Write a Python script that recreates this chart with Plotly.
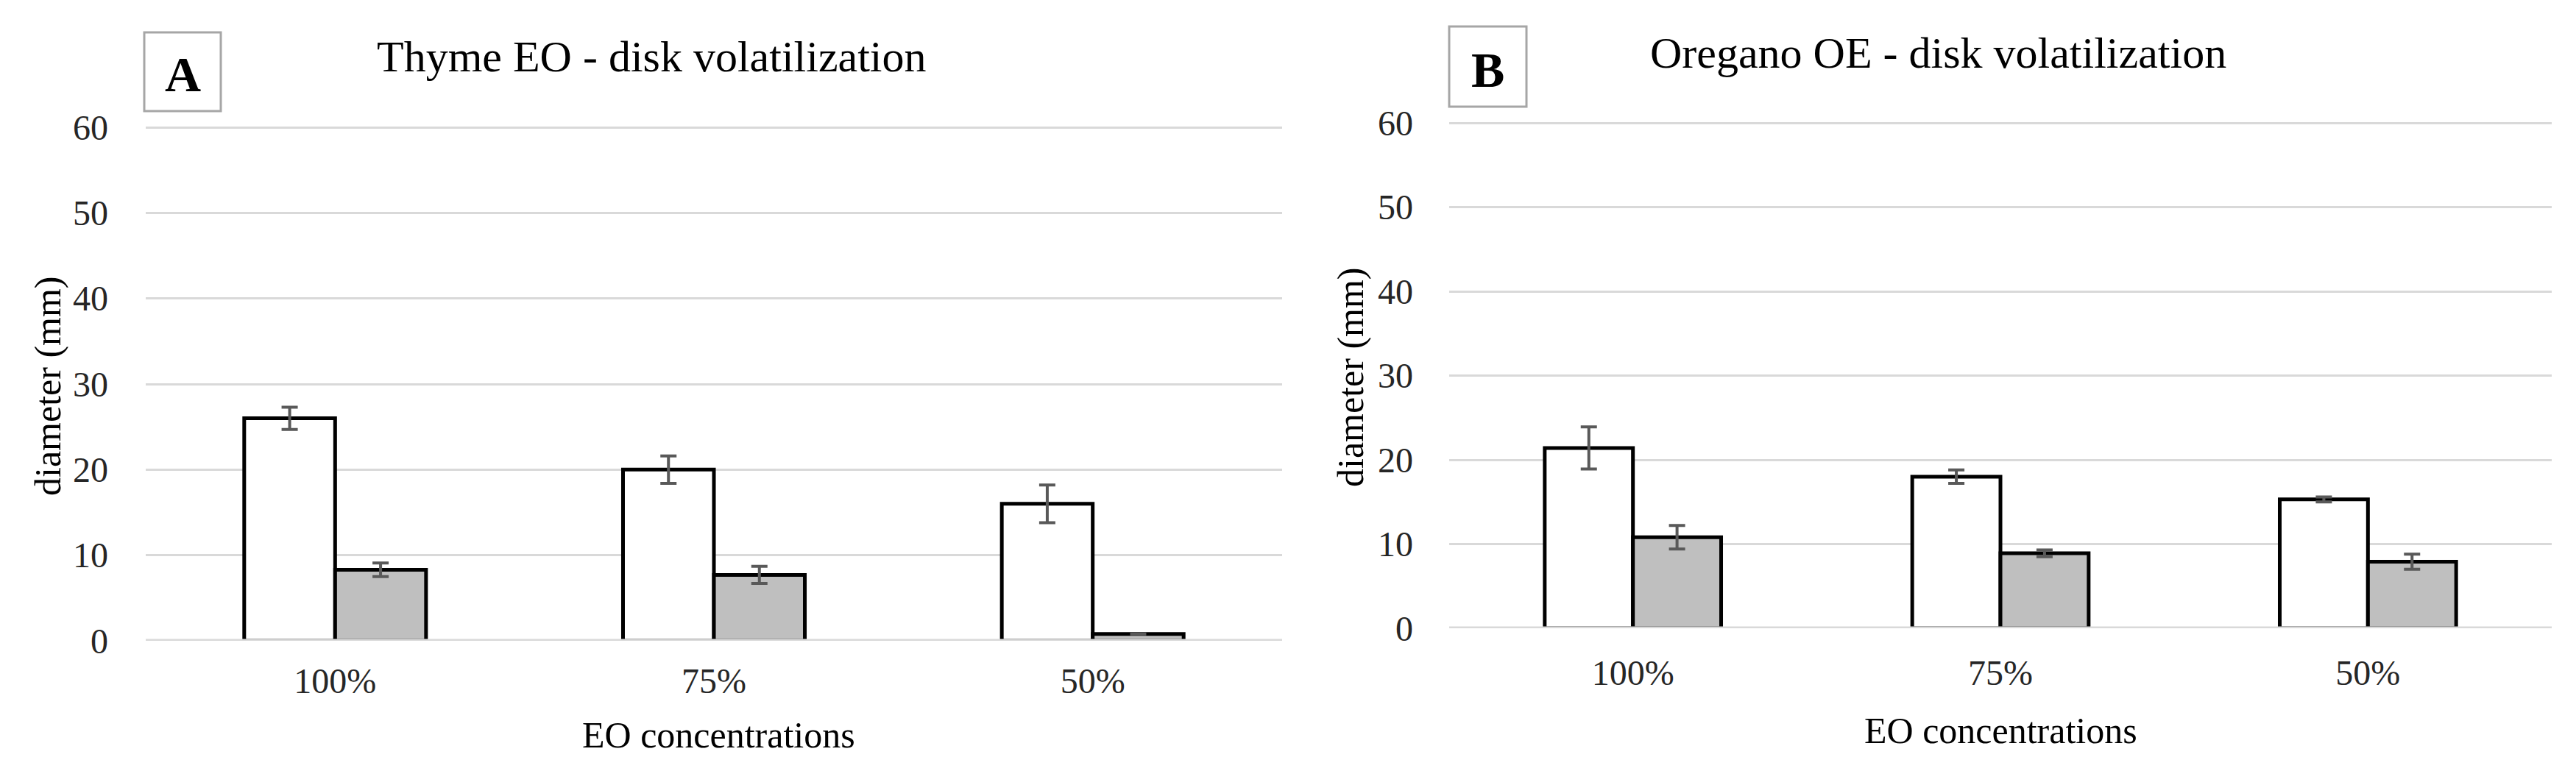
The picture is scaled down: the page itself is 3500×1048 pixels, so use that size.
import plotly.graph_objects as go

W, H = 3500, 1048

categories = ["100%", "75%", "50%"]

thyme_white = [26.0, 20.0, 16.0]
thyme_white_err = [1.3, 1.6, 2.2]
thyme_gray = [8.3, 7.7, 0.8]
thyme_gray_err = [0.8, 1.0, 0.0]

oregano_white = [21.4, 18.0, 15.3]
oregano_white_err = [2.5, 0.8, 0.3]
oregano_gray = [10.8, 8.9, 7.9]
oregano_gray_err = [1.4, 0.4, 0.9]

y_ticks = [0, 10, 20, 30, 40, 50, 60]

titles = ["Thyme EO - disk volatilization", "Oregano OE - disk volatilization"]
panel_letters = ["A", "B"]
x_title = "EO concentrations"
y_title = "diameter (mm)"

FONT = "Liberation Serif"
GRID = "#d9d9d9"
ERR = "#595959"


def px(x):
    return x / W


def py(y):
    return 1 - y / H


# panel geometry in pixels: (x0, x1, y_top(60), y_bottom(0))
panels = [(190, 1734, 165, 863), (1961, 3459, 159, 846)]
YMAX = 60.15

fig = go.Figure()

series = [
    (thyme_white, thyme_white_err, thyme_gray, thyme_gray_err),
    (oregano_white, oregano_white_err, oregano_gray, oregano_gray_err),
]

for i, (wv, we, gv, ge) in enumerate(series):
    xa = "x" if i == 0 else "x2"
    ya = "y" if i == 0 else "y2"
    fig.add_trace(go.Bar(
        x=categories, y=wv, xaxis=xa, yaxis=ya,
        marker=dict(color="white", line=dict(color="black", width=5)),
        error_y=dict(type="data", array=we, visible=True, color=ERR, thickness=4, width=11),
        showlegend=False, offsetgroup="a",
    ))
    fig.add_trace(go.Bar(
        x=categories, y=gv, xaxis=xa, yaxis=ya,
        marker=dict(color="#bfbfbf", line=dict(color="black", width=5)),
        error_y=dict(type="data", array=ge, visible=True, color=ERR, thickness=4, width=11),
        showlegend=False, offsetgroup="b",
    ))

layout = dict(
    template="none",
    width=W, height=H,
    margin=dict(l=0, r=0, t=0, b=0, pad=0),
    paper_bgcolor="white", plot_bgcolor="white",
    barmode="group", bargap=0.52, bargroupgap=0,
    font=dict(family=FONT, size=48, color="#262626"),
    showlegend=False,
)

annotations = []
shapes = []
for i, (x0, x1, yt, yb) in enumerate(panels):
    sfx = "" if i == 0 else str(i + 1)
    ytop = yb - (yb - yt) * YMAX / 60.0
    layout["xaxis" + sfx] = dict(
        domain=[px(x0), px(x1)], anchor="y" + sfx, automargin=False,
        type="category", categoryorder="array", categoryarray=categories,
        showgrid=False, zeroline=False, showline=False,
        ticks="", tickfont=dict(size=48, family=FONT, color="#262626"),
        ticklabelstandoff=22 if i == 0 else 28,
    )
    layout["yaxis" + sfx] = dict(
        domain=[py(yb), py(ytop)], anchor="x" + sfx, automargin=False,
        range=[0, YMAX], tickvals=y_ticks,
        showgrid=True, gridcolor=GRID, gridwidth=3,
        zeroline=False, showline=False, ticks="",
        tickfont=dict(size=48, family=FONT, color="#262626"),
        ticklabelstandoff=50 if i == 0 else 48,
    )
    # baseline over bars' bottom edges
    shapes.append(dict(type="line", xref="x%s domain" % sfx, yref="y" + sfx,
                       x0=0, x1=1, y0=0, y1=0, line=dict(color=GRID, width=5), layer="above"))

# panel letter boxes
boxes = [(188, 292, 36, 143), (1961, 2066, 28, 137)]
for (bx0, bx1, by0, by1), letter in zip(boxes, panel_letters):
    shapes.append(dict(type="rect", xref="paper", yref="paper",
                       x0=px(bx0), x1=px(bx1), y0=py(by1), y1=py(by0),
                       line=dict(color="#a6a6a6", width=3), fillcolor="white", layer="above"))
    annotations.append(dict(text="<b>%s</b>" % letter, xref="paper", yref="paper",
                            x=px((bx0 + bx1) / 2), y=py((by0 + by1) / 2 + 4),
                            xanchor="center", yanchor="middle", showarrow=False,
                            font=dict(family=FONT, size=68, color="black")))

# titles
title_pos = [(878, 69), (2625, 64)]
for (tx, ty), t in zip(title_pos, titles):
    annotations.append(dict(text=t, xref="paper", yref="paper", x=px(tx), y=py(ty),
                            xanchor="center", yanchor="middle", showarrow=False,
                            font=dict(family=FONT, size=60, color="black")))

# x-axis titles
xt_pos = [(968, 991), (2710, 985)]
for tx, ty in xt_pos:
    annotations.append(dict(text=x_title, xref="paper", yref="paper", x=px(tx), y=py(ty),
                            xanchor="center", yanchor="middle", showarrow=False,
                            font=dict(family=FONT, size=50, color="black")))

# y-axis titles
yt_pos = [(57, 517), (1827, 505)]
for tx, ty in yt_pos:
    annotations.append(dict(text=y_title, xref="paper", yref="paper", x=px(tx), y=py(ty),
                            xanchor="center", yanchor="middle", showarrow=False, textangle=-90,
                            font=dict(family=FONT, size=50, color="black")))

layout["annotations"] = annotations
layout["shapes"] = shapes
fig.update_layout(**layout)
fig.write_html("out.html")
